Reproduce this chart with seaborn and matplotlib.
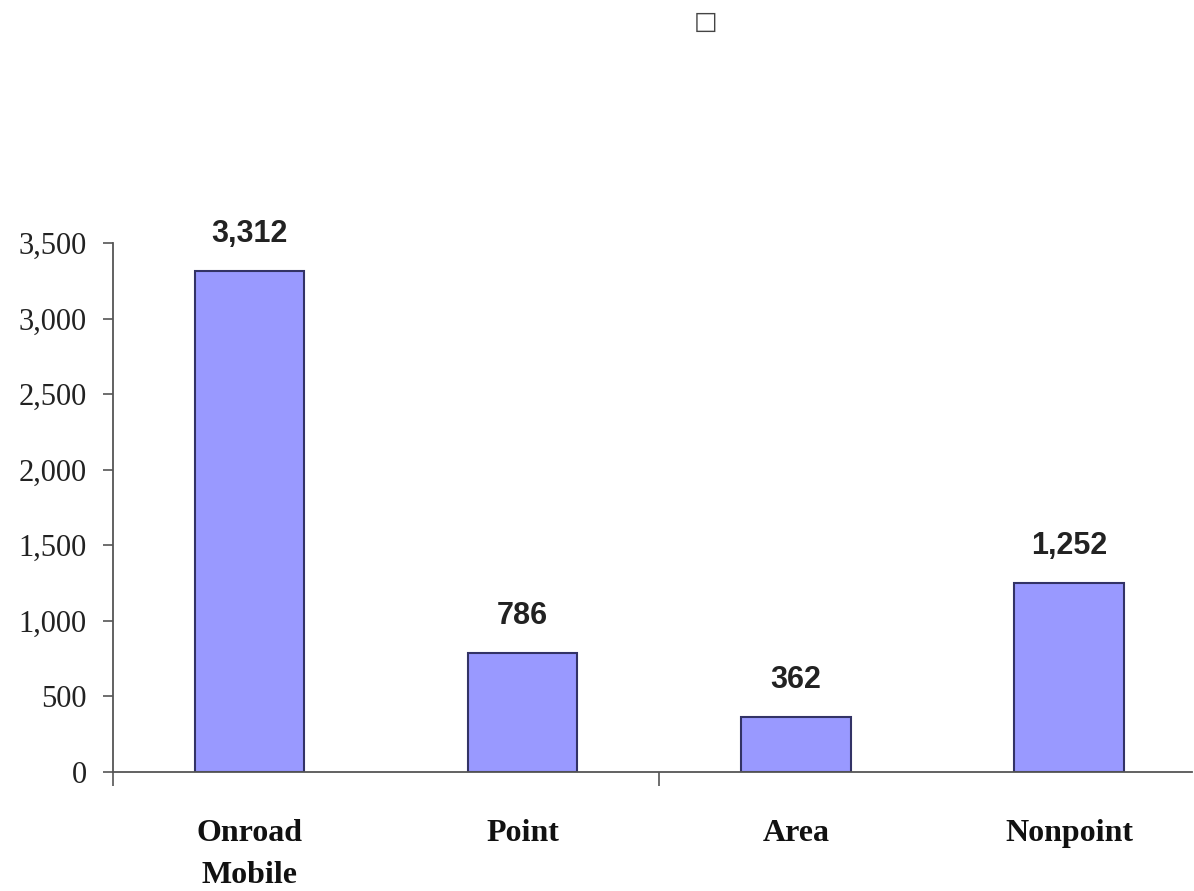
import matplotlib
matplotlib.use("Agg")
import matplotlib.pyplot as plt
import seaborn as sns
import pandas as pd

categories = ["Onroad\nMobile", "Point", "Area", "Nonpoint"]
values = [3312, 786, 362, 1252]
value_labels = ["3,312", "786", "362", "1,252"]
yticks = [0, 500, 1000, 1500, 2000, 2500, 3000, 3500]
ytick_labels = ["0", "500", "1,000", "1,500", "2,000", "2,500", "3,000", "3,500"]
title_text = "\u25A1"

sns.set_theme(style="white")
plt.rcParams['font.family'] = ['Liberation Serif', 'DejaVu Sans']

df = pd.DataFrame({"cat": categories, "val": values})

fig = plt.figure(figsize=(11.94, 8.91), dpi=100)
ax = fig.add_axes([113/1194, 1-772/891, (1192-113)/1194, (772-243)/891])

sns.barplot(data=df, x="cat", y="val", ax=ax, color="#9999FF", width=0.4,
            edgecolor="#333366", linewidth=1.5, saturation=1)

ax.set_xlim(-0.5, 3.45)
ax.set_ylim(0, 3500)
ax.set_yticks(yticks)
ax.set_yticklabels(ytick_labels, fontsize=22, family='Liberation Serif', color="#222222")
ax.set_xticks(range(len(categories)))
ax.set_xticklabels(categories, fontsize=23, fontweight='bold', family='Liberation Serif',
                   color="#111111", linespacing=1.6)
ax.tick_params(axis='x', which='major', length=0, pad=34, bottom=False)
ax.set_xticks([-0.5, 1.5], minor=True)
ax.tick_params(axis='x', which='minor', length=10, width=1.2, color="#555555",
               direction='out', bottom=True)
ax.tick_params(axis='y', which='major', length=7, width=1.2, color="#555555",
               direction='out', pad=12, left=True)

for s in ['top', 'right']:
    ax.spines[s].set_visible(False)
for s in ['left', 'bottom']:
    ax.spines[s].set_color("#555555")
    ax.spines[s].set_linewidth(1.3)

ax.set_xlabel("")
ax.set_ylabel("")

for i, (v, lab) in enumerate(zip(values, value_labels)):
    ax.annotate(lab, xy=(i, v), xytext=(0, 16), textcoords='offset points',
                ha='center', va='bottom', fontsize=22, fontweight='bold',
                family='Liberation Sans', color="#222222")

fig.text(706/1194, 1-22/891, title_text, ha='center', va='center', fontsize=18,
         family='DejaVu Sans', color="#444444")

fig.savefig("out.png", dpi=100)
